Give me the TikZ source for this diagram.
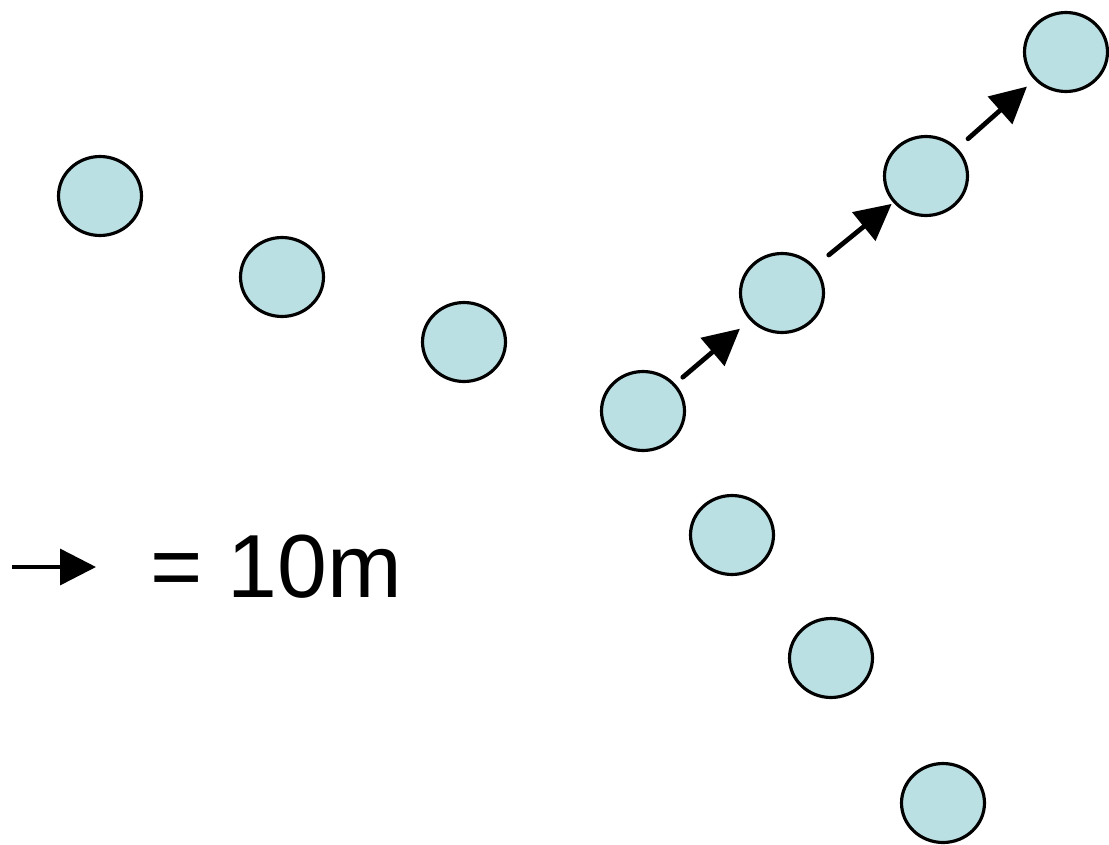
\documentclass[tikz,border=0pt]{standalone}
\usepackage{fontspec}
\setmainfont{Liberation Sans}
\usetikzlibrary{arrows.meta,shapes.geometric}
\definecolor{padfill}{RGB}{187,224,227}
\definecolor{padedge}{RGB}{0,0,0}
\tikzset{
  pad/.style={
    ellipse, draw=padedge, fill=padfill, line width=1.8pt,
    minimum width=1.66cm, minimum height=1.58cm, inner sep=0pt
  },
  arr/.style={-{Triangle[length=0.72cm,width=0.72cm]}, draw=black, line width=0.095cm, line cap=round},
  keyarr/.style={arr, line width=0.07cm, line cap=butt},
  keytxt/.style={anchor=base west, inner sep=0pt, font=\fontsize{51}{60}\selectfont}
}
\begin{document}
\begin{tikzpicture}[x=0.02cm, y=-0.02cm]
  \useasboundingbox (0,0) rectangle (1109,845);

  % upper-left row
  \node[pad] (p1) at (100,196) {};
  \node[pad] (p2) at (282,277) {};
  \node[pad] (p3) at (464,342) {};
  \node[pad] (p4) at (643,411) {};
  % lower row
  \node[pad] (p5) at (732,535) {};
  \node[pad] (p6) at (831,658) {};
  \node[pad] (p7) at (943,803) {};
  % rising row
  \node[pad] (p8) at (782,293) {};
  \node[pad] (p9) at (926,176) {};
  \node[pad] (p10) at (1066,52) {};

  \draw[arr, shorten <=0.2cm, shorten >=0.26cm] (p4) -- (p8);
  \draw[arr, shorten <=0.36cm, shorten >=0.04cm] (p8) -- (p9);
  \draw[arr, shorten <=0.28cm, shorten >=0.2cm] (p9) -- (p10);

  % scale key
  \coordinate (keyA) at (12,567);
  \coordinate (keyB) at (96,567);
  \draw[keyarr] (keyA) -- (keyB);
  \node[keytxt] (keyT) at (150,597) {= 10m};
\end{tikzpicture}
\end{document}
